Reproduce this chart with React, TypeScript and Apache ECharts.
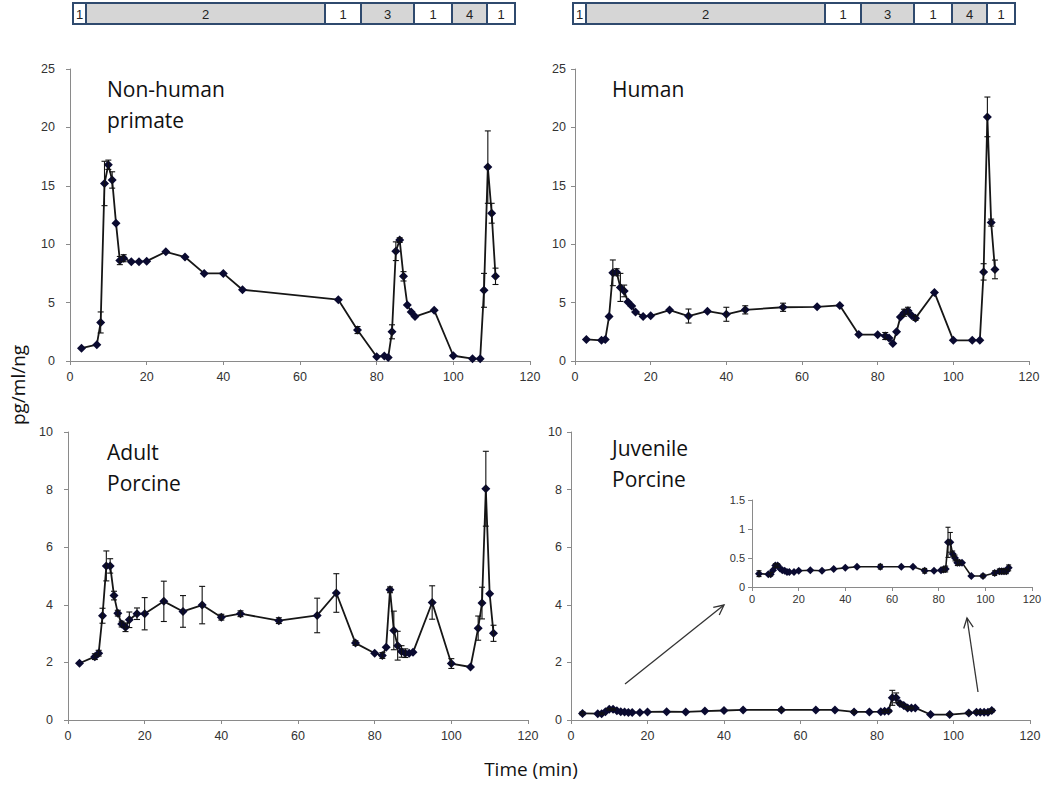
import React, { useEffect, useRef } from "react";
import * as echarts from "echarts";

// ---------- data ----------
const nhpTime = [3, 7, 8, 9, 10, 11, 12, 13, 14, 16, 18, 20, 25, 30, 35, 40, 45, 70, 75, 80, 82, 83, 84, 85, 86, 87, 88, 89, 90, 95, 100, 105, 107, 108, 109, 110, 111];
const nhpValue = [1.1, 1.4, 3.3, 15.2, 16.8, 15.5, 11.8, 8.6, 8.8, 8.5, 8.5, 8.55, 9.35, 8.9, 7.5, 7.5, 6.1, 5.25, 2.65, 0.37, 0.43, 0.3, 2.5, 9.4, 10.35, 7.25, 4.8, 4.2, 3.8, 4.35, 0.45, 0.2, 0.2, 6.05, 16.6, 12.65, 7.25];
const nhpError = [0, 0, 0.9, 1.9, 0.4, 0.7, 0, 0.35, 0.3, 0, 0, 0, 0, 0, 0, 0, 0, 0, 0.3, 0, 0, 0, 0.6, 0.8, 0.2, 0.4, 0, 0, 0, 0, 0, 0, 0, 1.45, 3.1, 0.85, 0.7];

const humanTime = [3, 7, 8, 9, 10, 11, 12, 13, 14, 15, 16, 18, 20, 25, 30, 35, 40, 45, 55, 64, 70, 75, 80, 82, 83, 84, 85, 86, 87, 88, 89, 90, 95, 100, 105, 107, 108, 109, 110, 111];
const humanValue = [1.85, 1.77, 1.85, 3.8, 7.55, 7.6, 6.3, 6.0, 5.05, 4.7, 4.2, 3.8, 3.87, 4.36, 3.85, 4.27, 4.0, 4.38, 4.6, 4.64, 4.76, 2.26, 2.25, 2.14, 1.97, 1.5, 2.5, 3.76, 4.13, 4.3, 3.9, 3.67, 5.87, 1.77, 1.77, 1.77, 7.63, 20.9, 11.85, 7.84];
const humanError = [0, 0, 0, 0, 1.1, 0.3, 1.2, 0.5, 0, 0, 0, 0, 0, 0, 0.6, 0, 0.6, 0.35, 0.35, 0, 0, 0, 0, 0.3, 0, 0, 0, 0, 0.3, 0.3, 0, 0.2, 0, 0, 0, 0, 0.7, 1.7, 0.3, 0.8];

const adultTime = [3, 7, 8, 9, 10, 11, 12, 13, 14, 15, 16, 18, 20, 25, 30, 35, 40, 45, 55, 65, 70, 75, 80, 82, 83, 84, 85, 86, 87, 88, 89, 90, 95, 100, 105, 107, 108, 109, 110, 111];
const adultValue = [1.97, 2.2, 2.32, 3.62, 5.35, 5.35, 4.32, 3.71, 3.33, 3.22, 3.48, 3.69, 3.69, 4.12, 3.77, 3.99, 3.57, 3.69, 3.45, 3.63, 4.41, 2.67, 2.32, 2.24, 2.53, 4.52, 3.11, 2.58, 2.38, 2.32, 2.32, 2.35, 4.08, 1.96, 1.84, 3.19, 4.06, 8.03, 4.38, 3.01];
const adultError = [0, 0.1, 0.1, 0.26, 0.52, 0.25, 0.15, 0.1, 0.1, 0.15, 0.27, 0.2, 0.56, 0.7, 0.55, 0.65, 0.1, 0.1, 0.1, 0.6, 0.67, 0.08, 0, 0.1, 0, 0.1, 0.67, 0.5, 0.2, 0.15, 0, 0, 0.58, 0.17, 0, 0.42, 0.55, 1.3, 0, 0.28];

const juvTime = [3, 7, 8, 9, 10, 11, 12, 13, 14, 15, 16, 18, 20, 25, 30, 35, 40, 45, 55, 64, 69, 74, 78, 81, 82, 83, 84, 85, 86, 87, 88, 89, 90, 94, 99, 104, 106, 107, 108, 109, 110];
const juvValue = [0.23, 0.22, 0.22, 0.29, 0.37, 0.37, 0.32, 0.29, 0.28, 0.26, 0.26, 0.26, 0.28, 0.29, 0.28, 0.31, 0.33, 0.35, 0.35, 0.35, 0.35, 0.28, 0.28, 0.29, 0.3, 0.31, 0.77, 0.77, 0.57, 0.5, 0.42, 0.42, 0.42, 0.19, 0.19, 0.24, 0.27, 0.27, 0.27, 0.27, 0.33];
const juvError = [0.05, 0, 0.03, 0, 0.03, 0.03, 0, 0, 0, 0, 0, 0, 0, 0, 0, 0, 0, 0, 0.04, 0, 0, 0.04, 0, 0, 0.04, 0.05, 0.26, 0.17, 0.05, 0.05, 0.05, 0.03, 0, 0, 0.03, 0.04, 0.04, 0.04, 0.04, 0.04, 0.05];

const panelTitles = [["Non-human", "primate"], ["Human"], ["Adult", "Porcine"], ["Juvenile", "Porcine"]];
const phaseLabels = ["1", "2", "1", "3", "1", "4", "1"];
const phaseShaded = [false, true, false, true, false, true, false];
const phaseWidths = [13, 239, 36, 53, 38, 35, 28];

const xTicks = { min: 0, max: 120, interval: 20 };
const yTopTicks = { min: 0, max: 25, interval: 5 };
const yBottomTicks = { min: 0, max: 10, interval: 2 };
const yInsetTicks = { min: 0, max: 1.5, interval: 0.5 };

const yAxisName = "pg/ml/ng";
const xAxisName = "Time (min)";

// ---------- helpers ----------
const AXIS_COLOR = "#8a8a8a";
const LABEL_COLOR = "#333333";
const MARK_COLOR = "#0a0a30";

const zip = (t: number[], v: number[]) => t.map((x, i) => [x, v[i]]);
const zip3 = (t: number[], v: number[], e: number[]) => t.map((x, i) => [x, v[i], e[i]]);

function makeXAxis(gridIndex: number, fontSize = 12.5, margin = 9) {
  return {
    type: "value",
    gridIndex,
    ...xTicks,
    splitLine: { show: false },
    axisLine: { show: true, lineStyle: { color: AXIS_COLOR, width: 1 } },
    axisTick: { show: true, length: 4, lineStyle: { color: AXIS_COLOR } },
    axisLabel: { color: LABEL_COLOR, fontSize, fontFamily: "Liberation Sans", margin },
  };
}
function makeYAxis(gridIndex: number, ticks: any, fontSize = 12.5, margin = 9) {
  return {
    type: "value",
    gridIndex,
    ...ticks,
    splitLine: { show: false },
    axisLine: { show: true, onZero: false, lineStyle: { color: AXIS_COLOR, width: 1 } },
    axisTick: { show: true, length: 4, lineStyle: { color: AXIS_COLOR } },
    axisLabel: { color: LABEL_COLOR, fontSize, fontFamily: "Liberation Sans", margin },
  };
}

function lineSeries(idx: number, t: number[], v: number[], symbolSize = 9, width = 1.8) {
  return {
    type: "line",
    xAxisIndex: idx,
    yAxisIndex: idx,
    data: zip(t, v),
    symbol: "diamond",
    symbolSize,
    itemStyle: { color: MARK_COLOR },
    lineStyle: { color: "#161616", width },
    z: 3,
  };
}

function errorSeries(idx: number, t: number[], v: number[], e: number[], cap = 3) {
  return {
    type: "custom",
    xAxisIndex: idx,
    yAxisIndex: idx,
    data: zip3(t, v, e),
    z: 4,
    renderItem: (params: any, api: any) => {
      const x = api.value(0);
      const y = api.value(1);
      const err = api.value(2);
      if (!err) return { type: "group", children: [] };
      const top = api.coord([x, y + err]);
      const bot = api.coord([x, y - err]);
      const st = { stroke: "#111", lineWidth: 1.1 };
      return {
        type: "group",
        children: [
          { type: "line", shape: { x1: top[0], y1: top[1], x2: bot[0], y2: bot[1] }, style: st },
          { type: "line", shape: { x1: top[0] - cap, y1: top[1], x2: top[0] + cap, y2: top[1] }, style: st },
          { type: "line", shape: { x1: bot[0] - cap, y1: bot[1], x2: bot[0] + cap, y2: bot[1] }, style: st },
        ],
      };
    },
  };
}

function phaseBar(startX: number) {
  const els: any[] = [];
  let x = startX;
  phaseLabels.forEach((lab, i) => {
    const w = phaseWidths[i];
    els.push({
      type: "rect",
      shape: { x, y: 3, width: w, height: 21 },
      style: { fill: phaseShaded[i] ? "#d6d6d6" : "#ffffff", stroke: "#2f4a6e", lineWidth: 2 },
    });
    els.push({
      type: "text",
      x: x + w / 2,
      y: 14,
      style: { text: lab, fill: "#222", fontSize: 13, fontFamily: "Liberation Sans", align: "center", verticalAlign: "middle" },
    });
    x += w;
  });
  return els;
}

function arrow(x1: number, y1: number, x2: number, y2: number) {
  const ang = Math.atan2(y2 - y1, x2 - x1);
  const L = 11;
  const a = 0.45;
  const p1 = [x2 - L * Math.cos(ang - a), y2 - L * Math.sin(ang - a)];
  const p2 = [x2 - L * Math.cos(ang + a), y2 - L * Math.sin(ang + a)];
  return [
    { type: "line", shape: { x1, y1, x2, y2 }, style: { stroke: "#333", lineWidth: 1.3 } },
    { type: "polyline", shape: { points: [p1, [x2, y2], p2] }, style: { stroke: "#333", lineWidth: 1.3, fill: null } },
  ];
}

function titleText(x: number, y: number, lines: string[]) {
  return {
    type: "text",
    x,
    y,
    style: {
      text: lines.join("\n"),
      fill: "#111",
      fontSize: 21,
      lineHeight: 31,
      fontFamily: "Open Sans",
      align: "left",
      verticalAlign: "top",
    },
  };
}

export default function App() {
  const ref = useRef<HTMLDivElement>(null);

  useEffect(() => {
    document.body.style.margin = "0";
    if (!ref.current) return;
    const chart = echarts.init(ref.current, undefined, { renderer: "svg" });

    const option: any = {
      animation: false,
      backgroundColor: "#ffffff",
      grid: [
        { left: 70, top: 69, width: 460, height: 292 },
        { left: 575, top: 69, width: 454, height: 292 },
        { left: 68, top: 432, width: 460, height: 288 },
        { left: 571, top: 432, width: 459, height: 288 },
        { left: 752, top: 500, width: 280, height: 87 },
      ],
      xAxis: [makeXAxis(0), makeXAxis(1), makeXAxis(2), makeXAxis(3), makeXAxis(4, 11, 6)],
      yAxis: [
        makeYAxis(0, yTopTicks, 12.5, 15),
        makeYAxis(1, yTopTicks, 12.5, 9),
        makeYAxis(2, yBottomTicks, 12.5, 15),
        makeYAxis(3, yBottomTicks, 12.5, 9),
        makeYAxis(4, yInsetTicks, 11, 7),
      ],
      series: [
        lineSeries(0, nhpTime, nhpValue),
        errorSeries(0, nhpTime, nhpValue, nhpError),
        lineSeries(1, humanTime, humanValue),
        errorSeries(1, humanTime, humanValue, humanError),
        lineSeries(2, adultTime, adultValue),
        errorSeries(2, adultTime, adultValue, adultError),
        lineSeries(3, juvTime, juvValue),
        errorSeries(3, juvTime, juvValue, juvError),
        lineSeries(4, juvTime, juvValue, 8, 1.6),
        errorSeries(4, juvTime, juvValue, juvError, 2.5),
      ],
      graphic: [
        ...phaseBar(73),
        ...phaseBar(573),
        titleText(107, 73, panelTitles[0]),
        titleText(612, 73, panelTitles[1]),
        titleText(107, 436, panelTitles[2]),
        titleText(612, 432, panelTitles[3]),
        ...arrow(625, 684, 724, 605),
        ...arrow(978, 692, 967, 618),
        {
          type: "text",
          x: 18,
          y: 385,
          rotation: Math.PI / 2,
          style: { text: yAxisName, fill: "#111", fontSize: 19, fontFamily: "Open Sans", align: "center", verticalAlign: "middle" },
        },
        {
          type: "text",
          x: 531,
          y: 769,
          style: { text: xAxisName, fill: "#111", fontSize: 19, fontFamily: "Open Sans", align: "center", verticalAlign: "middle" },
        },
      ],
    };

    chart.setOption(option);
    return () => chart.dispose();
  }, []);

  return <div ref={ref} style={{ width: 1050, height: 788 }} />;
}
